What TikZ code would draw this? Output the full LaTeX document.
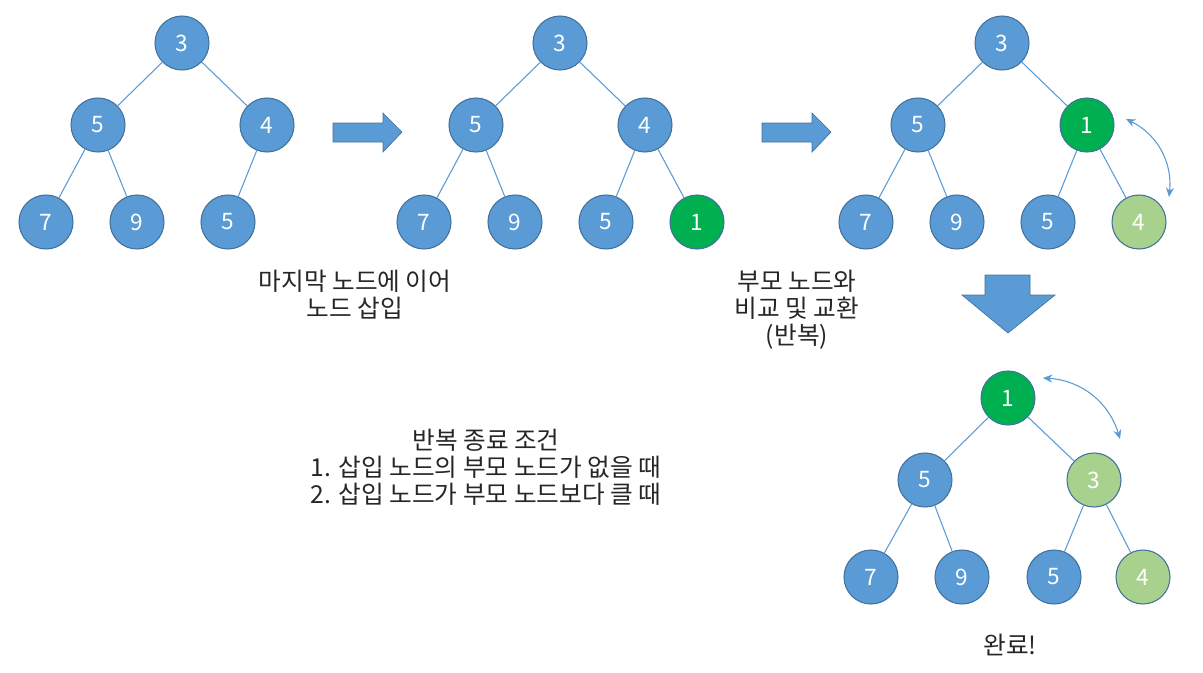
\documentclass[tikz,border=0pt]{standalone}
\usepackage{fontspec}
\setmainfont{Noto Sans CJK KR}
\usetikzlibrary{arrows.meta}
\definecolor{nodeblue}{HTML}{5B9BD5}
\definecolor{nodeedge}{HTML}{41719C}
\definecolor{newgreen}{HTML}{00B050}
\definecolor{swapgreen}{HTML}{A9D18E}
\definecolor{textgray}{HTML}{262626}
\begin{document}
\begin{tikzpicture}[x=0.75pt, y=-0.75pt,
    heapnode/.style={circle, draw=nodeedge, line width=0.8pt, fill=nodeblue, minimum size=40.5pt, inner sep=0pt, text=white, font=\fontsize{17}{17}\selectfont},
    newnode/.style={heapnode, fill=newgreen},
    swapnode/.style={heapnode, fill=swapgreen},
    link/.style={nodeblue, line width=0.8pt},
    swap/.style={nodeblue, line width=0.8pt, {Stealth[length=7pt,width=6pt]}-{Stealth[length=7pt,width=6pt]}},
    bigarrow/.style={fill=nodeblue, draw=nodeedge, line width=0.5pt},
    caption/.style={align=center, text=textgray, font=\fontsize{18.5}{20.25}\selectfont}]
    \useasboundingbox (0,0) rectangle (1203,672);

    % 첫 번째 트리
    \node[heapnode] (a3) at (182,43) {3};
    \node[heapnode] (a5) at (98,125) {5};
    \node[heapnode] (a4) at (267,125) {4};
    \node[heapnode] (a7) at (46,222) {7};
    \node[heapnode] (a9) at (137,222) {9};
    \node[heapnode] (a5b) at (228,222) {5};
    \draw[link] (a3) -- (a5);
    \draw[link] (a3) -- (a4);
    \draw[link] (a5) -- (a7);
    \draw[link] (a5) -- (a9);
    \draw[link] (a4) -- (a5b);

    % 화살표
    \draw[bigarrow] (333,123) -- (383,123) -- (383,113) -- (402,132) -- (383,152) -- (383,142) -- (333,142) -- cycle;
    \node[caption] (t1) at (355,295) {마지막 노드에 이어\\노드 삽입};

    % 두 번째 트리
    \node[heapnode] (b3) at (560,43) {3};
    \node[heapnode] (b5) at (476,125) {5};
    \node[heapnode] (b4) at (645,125) {4};
    \node[heapnode] (b7) at (424,222) {7};
    \node[heapnode] (b9) at (515,222) {9};
    \node[heapnode] (b5b) at (606,222) {5};
    \node[newnode] (b1) at (697,222) {1};
    \draw[link] (b3) -- (b5);
    \draw[link] (b3) -- (b4);
    \draw[link] (b5) -- (b7);
    \draw[link] (b5) -- (b9);
    \draw[link] (b4) -- (b5b);
    \draw[link] (b4) -- (b1);

    % 화살표
    \draw[bigarrow, shift={(429,0)}] (333,123) -- (383,123) -- (383,113) -- (402,132) -- (383,152) -- (383,142) -- (333,142) -- cycle;
    \node[caption] (t2) at (797,310) {부모 노드와\\비교 및 교환\\(반복)};

    % 세 번째 트리
    \node[heapnode] (c3) at (1002,43) {3};
    \node[heapnode] (c5) at (918,125) {5};
    \node[newnode] (c1) at (1087,125) {1};
    \node[heapnode] (c7) at (866,222) {7};
    \node[heapnode] (c9) at (957,222) {9};
    \node[heapnode] (c5b) at (1048,222) {5};
    \node[swapnode] (c4) at (1139,222) {4};
    \draw[link] (c3) -- (c5);
    \draw[link] (c3) -- (c1);
    \draw[link] (c5) -- (c7);
    \draw[link] (c5) -- (c9);
    \draw[link] (c1) -- (c5b);
    \draw[link] (c1) -- (c4);
    \coordinate (cs) at (1126,119);
    \coordinate (ce) at (1169,197);
    \draw[swap] (cs) to[bend left=35] (ce);

    % 아래 화살표
    \draw[bigarrow] (985,275) -- (1030,275) -- (1030,295) -- (1055,295) -- (1008,333) -- (962,295) -- (985,295) -- cycle;

    % 종료 조건
    \node[caption] (t3) at (486,467) {반복 종료 조건\\1. 삽입 노드의 부모 노드가 없을 때\\2. 삽입 노드가 부모 노드보다 클 때};

    % 마지막 트리
    \node[newnode] (d1) at (1008,398) {1};
    \node[heapnode] (d5) at (925,480) {5};
    \node[swapnode] (d3) at (1094,480) {3};
    \node[heapnode] (d7) at (871,577) {7};
    \node[heapnode] (d9) at (962,577) {9};
    \node[heapnode] (d5b) at (1054,577) {5};
    \node[swapnode] (d4) at (1143,577) {4};
    \draw[link] (d1) -- (d5);
    \draw[link] (d1) -- (d3);
    \draw[link] (d5) -- (d7);
    \draw[link] (d5) -- (d9);
    \draw[link] (d3) -- (d5b);
    \draw[link] (d3) -- (d4);
    \coordinate (ds) at (1043,378);
    \coordinate (de) at (1120,439);
    \draw[swap] (ds) to[bend left=35] (de);

    \node[caption] (t4) at (1010,645) {완료!};
\end{tikzpicture}
\end{document}
